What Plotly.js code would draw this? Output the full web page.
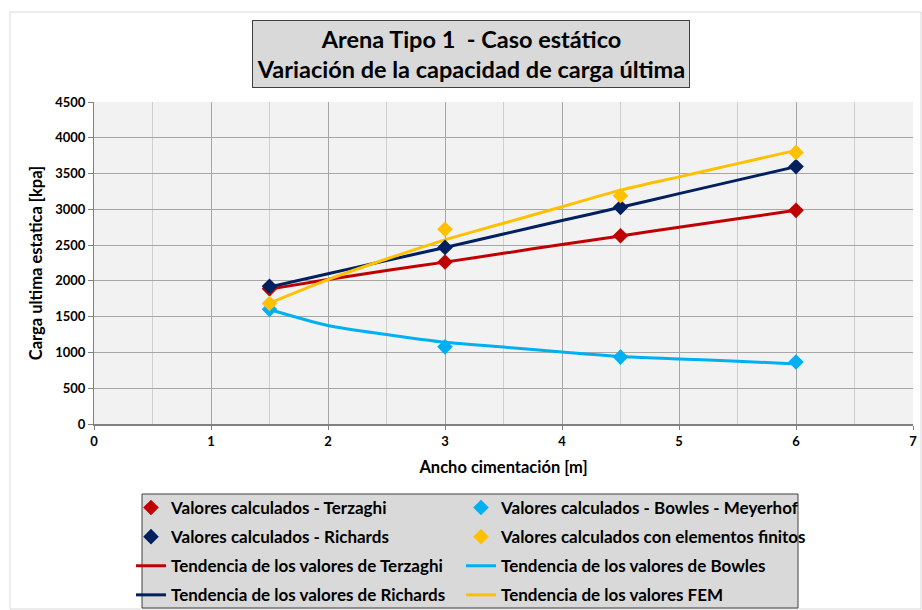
<!DOCTYPE html>
<html><head><meta charset="utf-8">
<script src="https://cdn.plot.ly/plotly-3.0.1.min.js"></script>
<style>body{margin:0;background:#fff}#chart{width:922px;height:610px}</style>
</head><body><div id="chart"></div>
<script>
// Data
const anchoPuntos = [1.5, 3, 4.5, 6];
const terzaghi = [1889, 2264, 2630, 2986];
const bowles = [1602, 1078, 935, 866];
const richards = [1926, 2468, 3028, 3597];
const fem = [1685, 2722, 3190, 3796];

const anchoTendencia = [1.5, 2, 2.5, 3, 3.5, 4, 4.5, 5, 5.5, 6];
const tendTerzaghi = [1885, 2020, 2145, 2262, 2385, 2510, 2628, 2750, 2868, 2986];
const tendBowles = [1600, 1377, 1250, 1141, 1075, 1005, 943, 910, 877, 840];
const tendRichards = [1915, 2100, 2285, 2466, 2655, 2843, 3028, 3220, 3408, 3597];
const tendFEM = [1690, 2019, 2306, 2574, 2806, 3037, 3269, 3454, 3639, 3824];

const titulo = 'Arena Tipo 1  - Caso estático<br>Variación de la capacidad de carga última';
const tituloX = 'Ancho cimentación [m]';
const tituloY = 'Carga ultima estatica [kpa]';

const C = {red:'#c00000', cyan:'#00b0f0', navy:'#002060', gold:'#ffc000'};
const F = 'Lato, "Open Sans", sans-serif';

function pts(name, y, color, leg, rank){
  return {type:'scatter', mode:'markers', name:name, x:anchoPuntos, y:y,
    legend:leg, legendgroup:'g'+rank, legendrank:rank,
    marker:{symbol:'diamond', size:12, color:color}};
}
function trend(name, y, color, leg, rank){
  return {type:'scatter', mode:'lines', name:name, x:anchoTendencia, y:y,
    legend:leg, legendgroup:'g'+rank, legendrank:rank,
    line:{color:color, width:3, shape:'spline', smoothing:0.8}};
}

const data = [
  trend('Tendencia de los valores de Terzaghi', tendTerzaghi, C.red, 'legend', 3),
  trend('Tendencia de los valores de Bowles', tendBowles, C.cyan, 'legend2', 3),
  trend('Tendencia de los valores de Richards', tendRichards, C.navy, 'legend', 4),
  trend('Tendencia de los valores FEM', tendFEM, C.gold, 'legend2', 4),
  pts('Valores calculados - Terzaghi', terzaghi, C.red, 'legend', 1),
  pts('Valores calculados - Bowles - Meyerhof', bowles, C.cyan, 'legend2', 1),
  pts('Valores calculados - Richards', richards, C.navy, 'legend', 2),
  pts('Valores calculados con elementos finitos', fem, C.gold, 'legend2', 2)
];

// pixel -> paper helpers (plot area: x 94..913, y 102..424)
const px = v => (v - 94) / 819;
const py = v => (424 - v) / 322;

const legendBase = {orientation:'v', yanchor:'top', xanchor:'left', bgcolor:'rgba(0,0,0,0)',
  borderwidth:0, tracegroupgap:4, traceorder:'grouped', itemwidth:30,
  font:{family:F, size:17, weight:'bold', color:'#000'}};

const layout = {
  width:922, height:610,
  margin:{l:94, r:9, t:102, b:186, autoexpand:false},
  paper_bgcolor:'#ffffff', plot_bgcolor:'#f2f2f2',
  font:{family:F, color:'#000'},
  showlegend:true,
  xaxis:{range:[0,7], dtick:1, tick0:0, showgrid:true, gridcolor:'#a6a6a6', gridwidth:1,
    minor:{dtick:0.5, showgrid:true, gridcolor:'#cfcfcf', gridwidth:1},
    showline:true, linecolor:'#808080', linewidth:2, ticks:'outside', ticklen:4, tickcolor:'#808080',
    zeroline:false, tickfont:{family:F, size:13, weight:'bold'},
    title:{text:tituloX, font:{family:F, size:16.5, weight:'bold'}, standoff:14}},
  yaxis:{range:[0,4500], dtick:500, showgrid:true, gridcolor:'#a6a6a6', gridwidth:1,
    showline:true, linecolor:'#808080', linewidth:1, ticks:'outside', ticklen:5, tickcolor:'#808080',
    zeroline:false, tickfont:{family:F, size:13, weight:'bold'},
    title:{text:tituloY, font:{family:F, size:16.5, weight:'bold'}, standoff:8}},
  legend: Object.assign({}, legendBase, {x:px(131), y:py(490)}),
  legend2: Object.assign({}, legendBase, {x:px(461), y:py(490)}),
  shapes:[
    {type:'rect', xref:'paper', yref:'paper', x0:px(10), x1:px(921),
     y0:py(609), y1:py(12), line:{color:'#d9d9d9', width:1}, fillcolor:'rgba(0,0,0,0)', layer:'below'},
    {type:'rect', xref:'paper', yref:'paper', x0:px(142), x1:px(798),
     y0:py(608), y1:py(494), line:{color:'#404040', width:1}, fillcolor:'#d9d9d9', layer:'below'}
  ],
  annotations:[
    {text:titulo, xref:'paper', yref:'paper', x:px(471), y:py(54),
     xanchor:'center', yanchor:'middle', showarrow:false, width:434, height:64,
     bgcolor:'#d9d9d9', bordercolor:'#404040', borderwidth:1, borderpad:1,
     font:{family:F, size:23.5, weight:'bold', color:'#000'}}
  ]
};

Plotly.newPlot('chart', data, layout, {displayModeBar:false, staticPlot:true});
</script></body></html>
